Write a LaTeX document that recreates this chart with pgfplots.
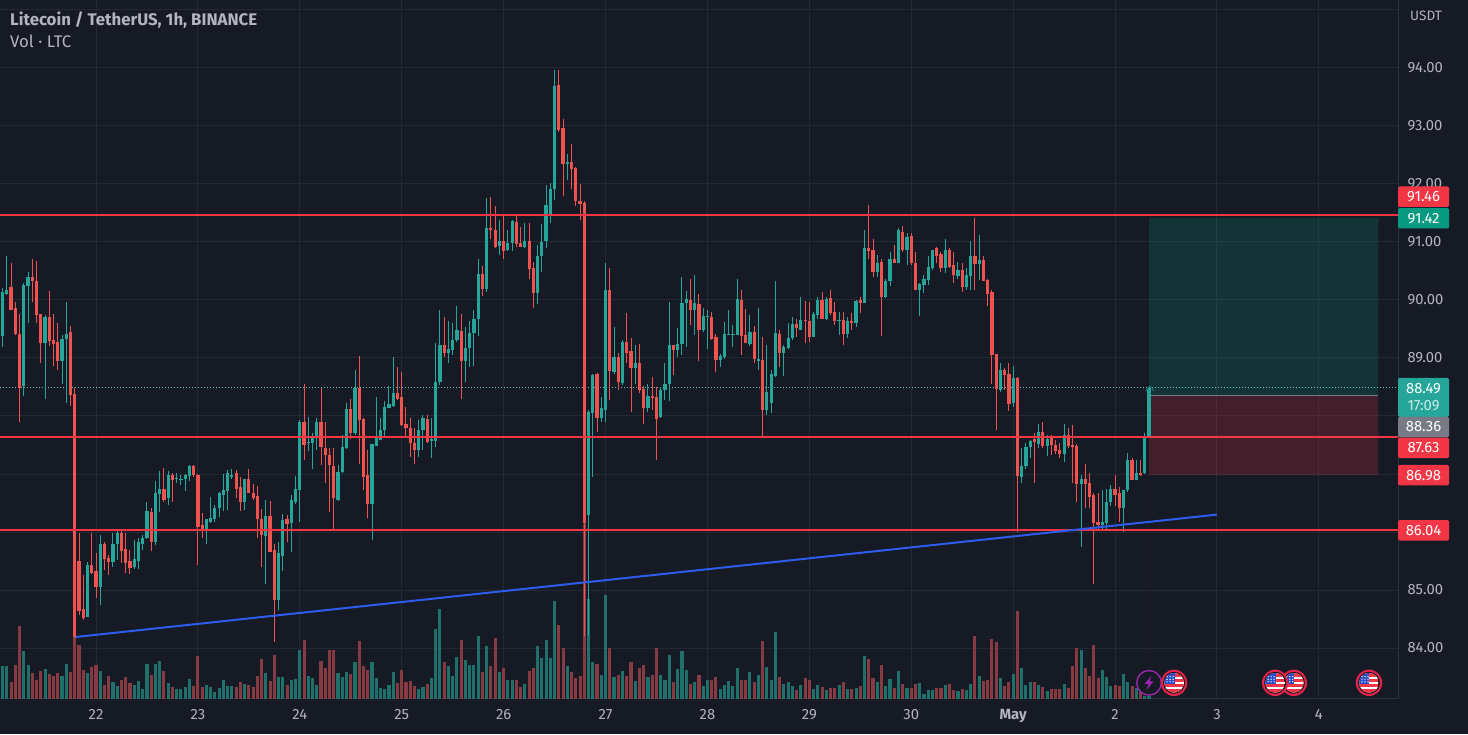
\documentclass[border=0pt]{standalone}
\usepackage{fontspec}
\setmainfont{Fira Sans}
\usepackage{pgfplots}
\usepackage{pgfplotstable}
\pgfplotsset{compat=1.18}

\definecolor{bg}{HTML}{161A25}
\definecolor{gridc}{HTML}{242833}
\definecolor{axisc}{HTML}{2E323D}
\definecolor{txt}{HTML}{B2B5BE}
\definecolor{up}{HTML}{26A69A}
\definecolor{down}{HTML}{EF5350}
\definecolor{volup}{HTML}{1F6F6B}
\definecolor{voldown}{HTML}{883A42}
\definecolor{level}{HTML}{F23645}
\definecolor{trend}{HTML}{2F5BEA}
\definecolor{tpgreen}{HTML}{089981}
\definecolor{tagteal}{HTML}{26A69A}
\definecolor{taggrey}{HTML}{787B86}
\definecolor{flagblue}{HTML}{2A4CC8}
\definecolor{flagring}{HTML}{E5234A}
\definecolor{flagdark}{HTML}{14161C}
\definecolor{bolt}{HTML}{9C27B0}

% h = hours after 22 April 00:00; vol in chart units
\pgfplotstableread{
h low bot top high vol
-22 89.19 89.38 90.14 90.20 98
-21 90.09 90.11 90.18 90.76 98
-17 88.34 88.51 90.26 90.29 145
-16 89.61 90.24 90.39 90.48 103
-12 88.29 89.25 89.70 89.74 91
-8 88.55 88.95 89.32 89.40 70
-7 88.23 89.32 89.42 89.97 106
-2 84.53 84.54 85.43 85.49 78
1 84.74 85.06 85.79 85.95 85
4 85.40 85.49 85.79 85.98 50
5 85.51 85.80 85.99 86.03 38
9 85.37 85.39 85.53 85.86 41
10 85.36 85.50 85.82 85.89 53
11 85.69 85.80 85.89 85.95 31
12 85.88 85.89 86.37 86.52 106
14 85.78 85.82 86.67 86.88 106
15 86.35 86.65 86.75 87.06 115
17 86.47 86.58 86.98 87.06 48
19 86.84 86.91 86.93 87.01 31
20 86.81 86.91 86.92 86.98 30
21 86.70 86.92 86.98 87.00 35
22 86.88 86.97 87.14 87.16 61
26 85.79 86.05 86.22 86.23 43
27 86.16 86.18 86.25 86.60 36
28 86.18 86.22 86.42 86.47 21
29 86.26 86.41 86.67 86.69 33
30 86.37 86.64 86.72 87.00 58
31 86.38 86.71 87.01 87.07 40
32 86.92 86.94 86.99 87.08 40
35 86.38 86.51 86.91 86.92 46
40 85.11 85.93 86.28 86.55 78
43 84.65 84.83 85.63 85.83 65
44 85.33 85.59 86.20 86.31 65
46 85.66 86.15 86.55 86.64 56
47 86.49 86.52 86.74 86.96 61
48 86.18 86.72 87.89 87.93 148
50 87.39 87.53 87.56 87.99 70
51 87.08 87.53 87.64 87.70 64
52 87.41 87.64 87.89 87.96 43
57 86.54 86.56 87.04 87.16 78
58 87.01 87.04 87.47 87.67 66
59 87.43 87.44 88.12 88.22 81
61 87.67 87.70 88.48 88.79 112
65 85.86 86.48 87.52 87.52 112
66 87.48 87.48 87.62 88.32 63
67 87.58 87.58 87.76 87.96 33
68 87.64 87.75 88.15 88.25 31
69 88.13 88.14 88.21 88.51 43
70 88.16 88.17 88.39 89.02 80
76 87.30 87.42 87.76 87.93 31
77 87.42 87.76 87.96 88.02 36
79 87.27 87.57 87.60 87.96 63
80 87.47 87.57 88.59 89.25 211
81 88.53 88.58 89.22 89.82 270
83 88.91 89.08 89.15 89.63 98
84 89.05 89.14 89.31 89.60 68
85 89.27 89.31 89.48 89.90 126
87 88.59 88.94 89.18 89.54 118
88 88.84 89.18 89.43 89.63 102
89 88.86 89.43 89.68 89.82 103
90 89.38 89.68 90.45 90.70 188
92 90.13 90.19 91.24 91.75 160
95 90.78 90.93 91.02 91.38 80
97 90.85 90.86 90.99 91.20 56
98 90.85 90.99 91.37 91.38 56
101 90.89 90.92 91.01 91.33 46
104 89.93 90.12 90.75 90.95 158
105 90.49 90.75 91.00 91.31 123
106 90.89 91.02 91.64 91.98 178
107 91.32 91.47 91.91 92.02 123
108 91.72 91.91 93.69 93.97 293
111 92.07 92.35 92.38 92.52 100
116 84.22 86.29 88.07 88.11 300
117 86.95 88.05 88.71 88.72 112
119 87.90 87.96 88.13 88.33 73
120 87.90 88.11 90.18 90.63 313
122 88.73 88.76 89.01 89.54 65
124 88.53 88.57 89.28 89.31 85
127 88.56 88.82 88.91 89.22 55
130 88.07 88.13 88.34 88.56 66
133 87.96 87.98 88.45 88.50 73
134 88.28 88.45 88.56 88.91 58
135 88.25 88.56 89.22 89.97 133
137 89.02 89.14 89.24 89.51 91
138 89.05 89.24 89.94 90.39 143
139 89.19 89.94 90.02 90.16 88
141 89.40 89.82 89.94 90.43 52
143 89.44 89.49 89.72 89.87 40
144 89.15 89.71 89.72 89.83 58
147 88.85 88.96 89.03 89.07 31
148 88.99 89.02 89.41 89.62 43
149 89.39 89.41 89.42 89.83 54
150 89.19 89.40 89.41 89.57 40
151 89.39 89.40 90.02 90.37 94
154 89.21 89.24 89.45 89.74 80
156 88.79 88.95 88.99 89.86 73
158 88.02 88.11 88.42 89.22 96
159 88.05 88.23 88.73 88.79 58
160 88.68 88.69 89.43 90.32 200
162 88.69 89.09 89.19 89.22 46
163 89.16 89.18 89.34 89.60 50
164 89.31 89.34 89.59 89.70 38
166 89.48 89.49 89.65 90.06 43
169 89.36 89.37 89.76 89.80 31
170 89.68 89.74 90.00 90.06 43
172 89.65 89.68 90.02 90.06 28
175 89.40 89.63 89.65 89.80 43
177 89.34 89.41 89.64 89.71 30
179 89.54 89.60 89.98 90.00 34
181 89.94 89.94 90.89 91.21 130
184 90.39 90.49 90.64 90.77 50
186 90.03 90.05 90.32 90.37 40
187 90.24 90.32 90.70 90.83 61
189 90.63 90.64 91.21 91.24 85
191 90.60 90.86 91.09 91.15 34
194 89.72 90.17 90.28 90.29 48
195 90.12 90.26 90.37 90.43 16
196 90.26 90.34 90.57 90.75 28
197 90.52 90.55 90.86 90.87 28
200 90.47 90.56 90.87 91.06 43
203 90.37 90.41 90.51 90.66 23
205 90.17 90.22 90.43 90.55 28
206 90.17 90.41 90.76 91.02 46
208 90.34 90.62 90.69 91.12 70
213 88.42 88.45 88.79 88.91 62
216 88.16 88.22 88.65 88.86 76
218 86.84 86.95 87.14 87.44 93
219 87.08 87.14 87.47 87.53 43
220 87.27 87.46 87.57 87.58 51
222 87.44 87.52 87.73 87.86 43
224 87.31 87.48 87.61 87.67 25
228 87.21 87.34 87.67 87.86 46
232 85.75 86.83 86.92 86.98 148
237 86.03 86.12 86.17 86.72 88
238 86.06 86.15 86.52 86.75 66
239 86.45 86.52 86.75 86.81 40
242 86.00 86.41 86.72 86.72 76
243 86.69 86.72 87.25 87.36 52
245 86.89 86.89 87.01 87.24 33
247 87.00 87.01 87.63 87.70 10
248 87.63 87.64 88.48 88.49 10
}\upbars

\pgfplotstableread{
h low bot top high vol
-20 89.82 89.83 90.22 90.64 50
-19 89.40 89.41 89.86 89.97 103
-18 87.89 88.48 89.41 89.76 218
-15 89.97 90.32 90.39 90.71 78
-14 89.60 89.74 90.32 90.68 58
-13 88.92 89.25 89.75 89.76 85
-11 89.20 89.30 89.70 90.16 75
-10 88.86 89.24 89.31 89.76 68
-9 88.79 88.94 89.28 89.61 78
-6 88.17 88.36 89.45 89.55 80
-5 84.17 84.19 88.38 88.48 193
-4 84.57 84.64 85.50 85.98 163
-3 84.48 84.52 84.67 85.26 88
-1 85.28 85.29 85.43 85.99 96
0 84.87 85.05 85.32 85.63 103
2 85.34 85.53 85.79 85.83 43
3 85.26 85.48 85.56 85.60 70
6 85.46 85.68 85.99 86.03 58
7 85.29 85.47 85.70 85.98 65
8 85.27 85.38 85.50 85.69 48
13 85.68 85.83 86.35 86.41 73
16 86.52 86.56 86.75 87.10 85
18 86.52 86.90 86.98 87.01 36
23 86.95 86.98 87.14 87.16 38
24 85.43 86.09 86.99 87.00 130
25 85.89 86.05 86.12 86.32 36
33 86.58 86.75 87.02 87.07 35
34 86.37 86.51 86.78 86.95 50
36 86.67 86.68 86.92 87.08 41
37 86.55 86.58 86.67 86.83 35
38 85.89 86.23 86.62 86.79 70
39 85.40 85.95 86.22 86.39 121
41 85.66 85.66 86.28 86.54 53
42 84.11 84.83 85.69 85.80 133
45 85.83 86.14 86.22 86.29 43
49 87.25 87.50 87.89 88.55 178
53 87.16 87.46 87.89 88.48 115
54 86.84 87.33 87.44 87.89 92
55 86.35 87.16 87.33 87.44 148
56 86.01 86.58 87.14 87.44 148
60 87.61 87.70 88.12 88.29 75
62 87.18 87.93 88.48 89.03 175
63 86.72 86.95 87.94 87.96 100
64 86.24 86.49 86.98 87.41 88
71 88.28 88.29 88.39 88.84 48
72 87.83 87.85 88.32 88.76 88
73 87.62 87.79 87.87 88.16 50
74 87.30 87.53 87.79 87.96 55
75 87.18 87.42 87.54 87.79 40
78 87.54 87.56 87.94 88.02 46
82 89.01 89.08 89.22 89.71 110
86 88.29 88.94 89.47 89.76 176
91 90.07 90.19 90.45 90.59 80
93 91.06 91.20 91.24 91.77 100
94 90.89 90.91 91.21 91.62 183
96 90.70 90.85 91.02 91.48 94
99 90.91 90.97 91.35 91.45 56
100 90.92 90.92 90.98 91.26 36
102 90.36 90.53 91.01 91.33 83
103 89.86 90.12 90.55 90.66 92
109 92.90 92.93 93.71 93.97 223
110 91.79 92.35 92.96 93.12 153
112 91.91 92.25 92.38 92.69 80
113 91.62 91.70 92.27 92.29 63
114 91.38 91.66 91.70 92.00 70
115 84.20 86.15 91.67 91.71 525
118 87.73 87.96 88.73 88.74 104
121 88.27 88.78 90.18 90.55 153
123 88.45 88.59 89.02 89.09 73
125 88.91 89.09 89.28 89.77 70
126 88.07 88.82 89.12 89.34 110
128 88.40 88.44 88.91 89.24 94
129 87.87 88.13 88.46 88.52 102
131 88.10 88.31 88.34 88.68 73
132 87.25 87.94 88.33 88.50 152
136 88.71 89.14 89.22 89.22 52
140 89.57 89.82 90.00 90.37 46
142 88.94 89.48 89.93 90.11 73
145 89.31 89.32 89.71 89.80 56
146 88.75 88.96 89.36 89.41 66
152 89.05 89.38 90.00 90.17 58
153 89.25 89.25 89.40 89.84 56
155 88.91 88.98 89.44 89.55 52
157 87.65 88.11 88.96 89.36 173
161 88.85 89.09 89.41 89.49 65
165 89.37 89.51 89.59 89.67 28
167 89.25 89.63 89.65 89.99 62
168 89.28 89.36 89.63 89.97 56
171 89.67 89.68 90.00 90.14 36
173 89.74 89.77 90.03 90.18 34
174 89.57 89.63 89.80 89.97 32
176 89.22 89.41 89.65 89.80 50
178 89.48 89.61 89.64 89.78 30
180 89.77 89.94 90.00 90.06 38
182 90.70 90.85 90.89 91.64 121
183 90.39 90.49 90.86 91.06 64
185 89.38 90.05 90.65 90.70 102
188 90.63 90.64 90.70 90.95 32
190 90.83 90.86 91.18 91.28 46
192 90.60 90.63 91.10 91.15 34
193 90.17 90.18 90.64 90.83 46
198 90.63 90.76 90.89 90.92 32
199 90.49 90.55 90.79 90.83 34
201 90.55 90.57 90.87 90.89 45
202 90.30 90.43 90.60 90.83 28
204 90.14 90.22 90.51 90.63 30
207 90.18 90.62 90.76 91.42 190
209 90.32 90.33 90.69 90.76 55
210 89.90 90.10 90.34 90.37 58
211 88.56 89.05 90.13 90.17 180
212 87.75 88.46 89.07 89.07 170
214 88.45 88.71 88.79 88.82 40
215 88.09 88.21 88.72 88.92 52
217 86.00 86.96 88.65 88.68 263
221 86.85 87.56 87.60 87.70 51
223 87.44 87.48 87.73 87.90 36
225 87.33 87.50 87.63 87.67 31
226 87.35 87.40 87.50 87.58 31
227 87.27 87.34 87.41 87.53 31
229 87.44 87.48 87.67 87.79 32
230 86.85 87.47 87.50 87.84 98
231 86.52 86.83 87.48 87.52 152
233 86.41 86.83 86.92 87.17 92
234 86.41 86.60 86.85 87.01 70
235 85.11 86.16 86.64 86.67 163
236 86.06 86.12 86.17 86.67 64
240 86.45 86.64 86.75 86.98 43
241 86.18 86.41 86.67 86.78 40
244 86.89 86.89 87.25 87.27 38
246 86.96 86.99 87.01 87.24 23
}\downbars

% event icons on the time scale
\newcommand\icdisc[2]{\pgfsetfillcolor{#1}\pgfpathcircle{\pgfpointorigin}{#2}\pgfusepath{fill}}
\newcommand\icband[5]{\pgfsetfillcolor{#1}\pgfpathrectanglecorners{\pgfpoint{#2pt}{#3pt}}{\pgfpoint{#4pt}{#5pt}}\pgfusepath{fill}}
\newcommand\icstar[2]{\pgfpathcircle{\pgfpoint{#1pt}{#2pt}}{0.7pt}}
\pgfdeclareplotmark{usflag}{%
  \icdisc{flagring}{13.2pt}%
  \icdisc{flagdark}{11pt}%
  \pgfscope
    \pgfpathcircle{\pgfpointorigin}{9.8pt}\pgfusepath{clip}%
    \icband{white}{-10}{-10}{10}{10}%
    \icband{level}{-10}{5.5}{10}{10}%
    \icband{level}{0}{0.8}{10}{3.4}%
    \icband{level}{-10}{-4}{10}{-1}%
    \icband{level}{-10}{-10}{10}{-6.6}%
    \icband{flagblue}{-10}{-1}{0.5}{10}%
    \pgfsetfillcolor{white}%
    \icstar{-7}{1}\icstar{-4}{1}\icstar{-1}{1}%
    \icstar{-7}{3.6}\icstar{-4}{3.6}\icstar{-1}{3.6}%
    \icstar{-7}{6.2}\icstar{-4}{6.2}\icstar{-1}{6.2}%
    \pgfusepath{fill}%
  \endpgfscope
}
\pgfdeclareplotmark{boltmark}{%
  \icdisc{bolt}{13pt}%
  \icdisc{bg}{11.5pt}%
  \pgfsetfillcolor{bolt}%
  \pgfpathmoveto{\pgfpoint{2.5pt}{7pt}}%
  \pgfpathlineto{\pgfpoint{-4.5pt}{-1pt}}%
  \pgfpathlineto{\pgfpoint{-0.5pt}{-1pt}}%
  \pgfpathlineto{\pgfpoint{-2.5pt}{-7pt}}%
  \pgfpathlineto{\pgfpoint{4.5pt}{1.5pt}}%
  \pgfpathlineto{\pgfpoint{0.5pt}{1.5pt}}%
  \pgfpathclose
  \pgfusepath{fill}%
}

\pgfplotsset{
  pane/.style={
    at={(0pt,35pt)}, anchor=south west,
    scale only axis, width=1398pt, height=699pt,
    xmin=-22.61, xmax=306.64,
  },
  pricescale/.style={pane, ymin=83.121, ymax=95.172},
  wick/.style={draw=none, mark=none, error bars/.cd, y dir=plus, y explicit, error mark=none,
    error bar style={draw=#1, line width=1pt, solid}},
  body/.style={draw=none, mark=none, error bars/.cd, y dir=plus, y explicit, error mark=none,
    error bar style={draw=#1, line width=3.2pt, solid}},
}
\tikzset{
  tag/.style={rounded corners=1.5pt, minimum width=51pt, minimum height=20.5pt, inner sep=0pt,
    text=white, font=\fontsize{14.8}{17.5}\selectfont, align=center},
}

\begin{document}
\begin{tikzpicture}
  \path[use as bounding box] (0,0) rectangle (1468pt,734pt);
  \fill[bg] (0,0) rectangle (1468pt,734pt);

  % grid, scales
  \begin{axis}[pricescale,
      axis x line=bottom, axis y line=right,
      axis line style={-, draw=axisc, line width=1pt},
      grid=major, major grid style={draw=gridc, line width=1pt},
      tick style={draw=none}, major tick length=0pt,
      xtick={0,24,...,288},
      xticklabels={22,23,24,25,26,27,28,29,30,\textbf{May},2,3,4},
      ytick={84,85,...,95},
      yticklabels={84.00,85.00,{},{},{},89.00,90.00,91.00,92.00,93.00,94.00,{}},
      ticklabel style={text=txt, font=\fontsize{14.8}{17}\selectfont},
      xticklabel style={yshift=-6.5pt},
      yticklabel style={xshift=6pt},
    ]
  \end{axis}

  % volume
  \begin{axis}[pane, hide axis, ymin=0, ymax=2097]
    \addplot[ycomb, volup, line width=3.1pt, mark=none] table[x=h,y=vol] {\upbars};
    \addplot[ycomb, voldown, line width=3.1pt, mark=none] table[x=h,y=vol] {\downbars};
  \end{axis}

  % price
  \begin{axis}[pricescale, hide axis, clip=false]
    % long position box
    \addplot[fill=tpgreen, fill opacity=0.2, draw=none] coordinates {(248,91.42) (302,91.42) (302,88.36) (248,88.36)} \closedcycle;
    \addplot[fill=level, fill opacity=0.2, draw=none] coordinates {(248,88.36) (302,88.36) (302,86.98) (248,86.98)} \closedcycle;
    \addplot[taggrey, line width=1pt, mark=none] coordinates {(248,88.36) (302,88.36)};

    % last price
    \addplot[up!70!white, line width=0.7pt, dash pattern=on 1pt off 2pt, mark=none] coordinates {(-22.61,88.49) (306.64,88.49)};

    % candles
    \addplot[wick=up] table[x=h,y=low,y error plus expr=\thisrow{high}-\thisrow{low}] {\upbars};
    \addplot[body=up] table[x=h,y=bot,y error plus expr=\thisrow{top}-\thisrow{bot}] {\upbars};
    \addplot[wick=down] table[x=h,y=low,y error plus expr=\thisrow{high}-\thisrow{low}] {\downbars};
    \addplot[body=down] table[x=h,y=bot,y error plus expr=\thisrow{top}-\thisrow{bot}] {\downbars};

    % levels and trend line
    \addplot[level, line width=2pt, mark=none] coordinates {(-22.61,91.46) (306.64,91.46)};
    \addplot[level, line width=2pt, mark=none] coordinates {(-22.61,87.63) (306.64,87.63)};
    \addplot[level, line width=2pt, mark=none] coordinates {(-22.61,86.04) (306.64,86.04)};
    \addplot[trend, line width=2pt, mark=none] coordinates {(-4.8,84.19) (264,86.30)};

    % arrow tip of the position
    \addplot[up!60!bg, line width=1pt, mark=none] coordinates {(247.2,88.43) (248.2,88.52) (249.2,88.43)};

    % events
    \addplot[only marks, mark=boltmark] coordinates {(248,83.40)};
    \addplot[only marks, mark=usflag] coordinates {(299.8,83.40) (282.1,83.40) (277.7,83.40) (253.9,83.40)};

    % price tags
    \node[tag, fill=level] at (axis cs:312.65,91.78) {91.46};
    \node[tag, fill=tpgreen] at (axis cs:312.65,91.41) {91.42};
    \node[tag, fill=tagteal, minimum height=39pt] at (axis cs:312.65,88.32) {88.49\\[-0.5pt]\textcolor{white!75!tagteal}{17:09}};
    \node[tag, fill=taggrey] at (axis cs:312.65,87.81) {88.36};
    \node[tag, fill=level] at (axis cs:312.65,87.45) {87.63};
    \node[tag, fill=level] at (axis cs:312.65,86.98) {86.98};
    \node[tag, fill=level] at (axis cs:312.65,86.03) {86.04};
  \end{axis}

  \node[anchor=west, inner sep=0pt, text=txt, font=\fontsize{16.8}{19}\selectfont\bfseries] at (10pt,714pt) {Litecoin / TetherUS, 1h, BINANCE};
  \node[anchor=west, inner sep=0pt, text=txt, font=\fontsize{16.8}{19}\selectfont] at (10pt,693pt) {Vol · LTC};
  \node[anchor=west, inner sep=0pt, text=txt, font=\fontsize{13.6}{15}\selectfont] at (1410pt,718pt) {USDT};
\end{tikzpicture}
\end{document}
